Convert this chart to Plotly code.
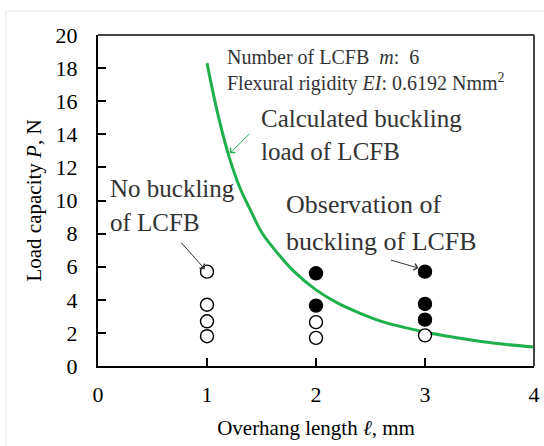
import plotly.graph_objects as go

# Calculated buckling load curve (overhang length in mm, load in N)
curve_length = [1.0, 1.1, 1.2, 1.3, 1.4, 1.5, 1.6, 1.8, 2.0, 2.2, 2.4, 2.6, 2.8, 3.0, 3.25, 3.5, 3.75, 4.0]
curve_load = [18.3, 15.2, 12.7, 10.8, 9.4, 8.1, 7.2, 5.7, 4.6, 3.8, 3.2, 2.7, 2.35, 2.05, 1.75, 1.5, 1.3, 1.15]

# Experiments without buckling (open circles)
nobuck_length = [1, 1, 1, 1, 2, 2, 3]
nobuck_load = [5.7, 3.7, 2.7, 1.8, 2.65, 1.7, 1.85]

# Experiments with buckling observed (filled circles)
buck_length = [2, 2, 3, 3, 3]
buck_load = [5.6, 3.65, 5.7, 3.75, 2.8]

x_ticks = [0, 1, 2, 3, 4]
y_ticks = [0, 2, 4, 6, 8, 10, 12, 14, 16, 18, 20]

FONT = "Liberation Serif"
TXT = "#333333"
NB = "\u00a0"

fig = go.Figure()

fig.add_trace(go.Scatter(
    x=curve_length, y=curve_load, mode="lines", line_shape="spline",
    line=dict(color="#1fb04c", width=3), showlegend=False, hoverinfo="skip"))

fig.add_trace(go.Scatter(
    x=nobuck_length, y=nobuck_load, mode="markers",
    marker=dict(symbol="circle", size=13, color="white", line=dict(color="black", width=1.4)),
    showlegend=False))

fig.add_trace(go.Scatter(
    x=buck_length, y=buck_load, mode="markers",
    marker=dict(symbol="circle", size=13, color="black", line=dict(color="black", width=1.4)),
    showlegend=False))

annotations = [
    dict(x=1.165, y=18.67, text=f"Number of LCFB{NB} <i>m</i>:{NB} 6", size=20),
    dict(x=1.165, y=17.15, text="Flexural rigidity <i>EI</i>: 0.6192 Nmm<sup>2</sup>", size=20),
    dict(x=1.475, y=14.97, text="Calculated buckling", size=25),
    dict(x=1.475, y=12.97, text="load of LCFB", size=25),
    dict(x=0.09, y=10.7, text="No buckling", size=25),
    dict(x=0.09, y=8.65, text="of LCFB", size=25),
    dict(x=1.705, y=9.75, text="Observation of", size=26),
    dict(x=1.705, y=7.55, text="buckling of LCFB", size=26),
]
ann = [dict(x=a["x"], y=a["y"], xref="x", yref="y", text=a["text"], showarrow=False,
            xanchor="left", yanchor="middle", font=dict(family=FONT, size=a["size"], color=TXT))
       for a in annotations]

# Pointer arrows
arrows = [
    dict(x=1.21, y=12.85, ax=20, ay=-20, color="#1fb04c"),
    dict(x=0.98, y=5.85, ax=-24, ay=-27, color="#333333"),
    dict(x=2.94, y=5.92, ax=-28, ay=-8, color="#333333"),
]
for a in arrows:
    ann.append(dict(x=a["x"], y=a["y"], xref="x", yref="y", ax=a["ax"], ay=a["ay"],
                    axref="pixel", ayref="pixel", text="", showarrow=True, borderpad=0,
                    font=dict(size=1), arrowhead=4, arrowsize=1.3, arrowwidth=1,
                    arrowcolor=a["color"]))

fig.update_layout(
    width=544, height=446,
    margin=dict(l=98, r=10, t=35, b=80),
    paper_bgcolor="white", plot_bgcolor="white",
    font=dict(family=FONT, color="black"),
    annotations=ann,
    xaxis=dict(
        range=[0, 4], tickvals=x_ticks, automargin=False,
        ticks="inside", ticklen=8, tickwidth=2, tickcolor="black",
        showline=True, linecolor="black", linewidth=2, showgrid=False, zeroline=False,
        tickfont=dict(family=FONT, size=22, color="black"), ticklabelstandoff=8,
        title=dict(text="Overhang length <i>ℓ</i>, mm", font=dict(family=FONT, size=21, color="black"),
                   standoff=14)),
    yaxis=dict(
        range=[0, 20], tickvals=y_ticks, automargin=False,
        ticks="inside", ticklen=8, tickwidth=2, tickcolor="black",
        showline=True, linecolor="black", linewidth=2, showgrid=False, zeroline=False,
        tickfont=dict(family=FONT, size=22, color="black"), ticklabelstandoff=14,
        title=dict(text="Load capacity <i>P</i>, N", font=dict(family=FONT, size=21, color="black"),
                   standoff=8)),
    shapes=[
        # top and right frame of the plotting area
        dict(type="line", xref="paper", yref="paper", x0=0, x1=1, y0=1, y1=1,
             line=dict(color="#444444", width=2)),
        dict(type="line", xref="paper", yref="paper", x0=1, x1=1, y0=0, y1=1,
             line=dict(color="#444444", width=2)),
        # faint outer border
        dict(type="line", xref="paper", yref="paper", x0=-0.211, x1=-0.211, y0=-0.3, y1=1.0725,
             line=dict(color="#e6e6e6", width=1)),
        dict(type="line", xref="paper", yref="paper", x0=-0.211, x1=1.03, y0=1.0725, y1=1.0725,
             line=dict(color="#e6e6e6", width=1)),
    ],
)

fig.write_html("out.html")
